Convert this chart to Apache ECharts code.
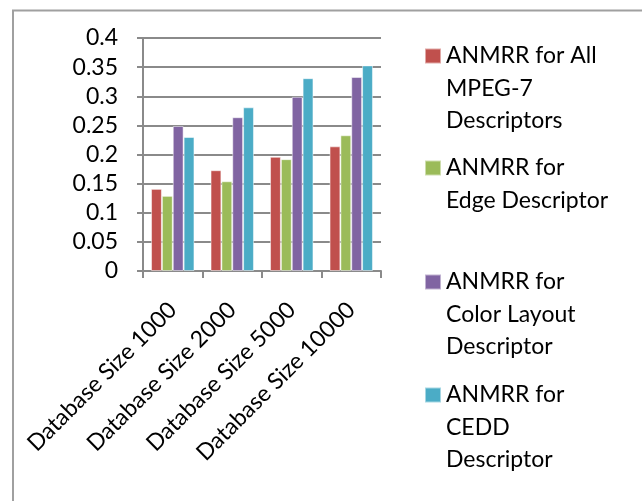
<!DOCTYPE html>
<html>
<head>
<meta charset="utf-8">
<script src="https://cdn.jsdelivr.net/npm/echarts@6/dist/echarts.min.js"></script>
<style>
html,body{margin:0;padding:0;background:#fff;}
#chart{width:642px;height:501px;}
</style>
</head>
<body>
<div id="chart"></div>
<script>
var categories = ['Database Size 1000', 'Database Size 2000', 'Database Size 5000', 'Database Size 10000'];
var seriesNames = [
  'ANMRR for All MPEG-7 Descriptors',
  'ANMRR for Edge Descriptor',
  'ANMRR for Color Layout Descriptor',
  'ANMRR for CEDD Descriptor'
];
var legendLabels = [
  'ANMRR for All\nMPEG-7\nDescriptors',
  'ANMRR for\nEdge Descriptor',
  'ANMRR for\nColor Layout\nDescriptor',
  'ANMRR for\nCEDD\nDescriptor'
];
var allMpeg7 = [0.141, 0.173, 0.196, 0.214];
var edge = [0.129, 0.154, 0.192, 0.233];
var colorLayout = [0.249, 0.264, 0.299, 0.333];
var cedd = [0.230, 0.281, 0.331, 0.353];
var yTicks = [0, 0.05, 0.1, 0.15, 0.2, 0.25, 0.3, 0.35, 0.4];

var colors = ['#C0504D', '#9BBB59', '#8064A2', '#4BACC6'];
var values = [allMpeg7, edge, colorLayout, cedd];
var FONT = 'Lato';
var LH = 32.5;
var iconCenters = [56, 168, 282, 395];

var chart = echarts.init(document.getElementById('chart'), null, {renderer: 'canvas'});

var legends = seriesNames.map(function (name, i) {
  var n = legendLabels[i].split('\n').length;
  var pre = '';
  for (var k = 0; k < n - 1; k++) pre += ' \n';
  return {
    data: [name],
    orient: 'vertical',
    left: 424,
    top: iconCenters[i] - (2 * n - 1) * LH / 2,
    padding: 0,
    itemWidth: 16,
    itemHeight: 15,
    icon: 'rect',
    selectedMode: false,
    formatter: function () { return pre + legendLabels[i]; },
    textStyle: {
      fontFamily: FONT,
      fontSize: 23,
      color: '#000',
      lineHeight: LH
    }
  };
});

var option = {
  animation: false,
  backgroundColor: '#fff',
  color: colors,
  grid: {left: 143, right: 261, top: 38, bottom: 230, containLabel: false},
  legend: legends,
  xAxis: {
    type: 'category',
    data: categories,
    axisLine: {show: true, lineStyle: {color: '#8a8a8a', width: 2}},
    axisTick: {show: true, length: 7, lineStyle: {color: '#8a8a8a', width: 2}},
    axisLabel: {
      rotate: 45,
      interval: 0,
      margin: 35,
      fontFamily: FONT,
      fontSize: 23,
      color: '#000'
    }
  },
  yAxis: {
    type: 'value',
    min: 0,
    max: 0.4,
    interval: 0.05,
    axisLine: {show: true, lineStyle: {color: '#8a8a8a', width: 2}},
    axisTick: {show: true, length: 6, lineStyle: {color: '#8a8a8a', width: 2}},
    splitLine: {show: true, lineStyle: {color: '#8a8a8a', width: 2}},
    axisLabel: {
      margin: 25,
      fontFamily: FONT,
      fontSize: 23,
      color: '#000',
      formatter: function (v) {
        var s = yTicks.filter(function (t) { return Math.abs(t - v) < 1e-9; });
        return s.length ? String(parseFloat(s[0].toFixed(2))) : '';
      }
    }
  },
  series: values.map(function (vals, i) {
    return {
      name: seriesNames[i],
      type: 'bar',
      data: vals,
      barGap: '0%',
      barCategoryGap: '27%',
      itemStyle: {color: colors[i], borderColor: 'rgba(255,255,255,0.5)', borderWidth: 1}
    };
  }),
  graphic: [{
    type: 'polyline',
    shape: {points: [[13, 501], [13, 10.5], [642, 10.5]]},
    style: {stroke: '#a0a0a0', lineWidth: 2, fill: null},
    silent: true
  }]
};
chart.setOption(option);
</script>
</body>
</html>
